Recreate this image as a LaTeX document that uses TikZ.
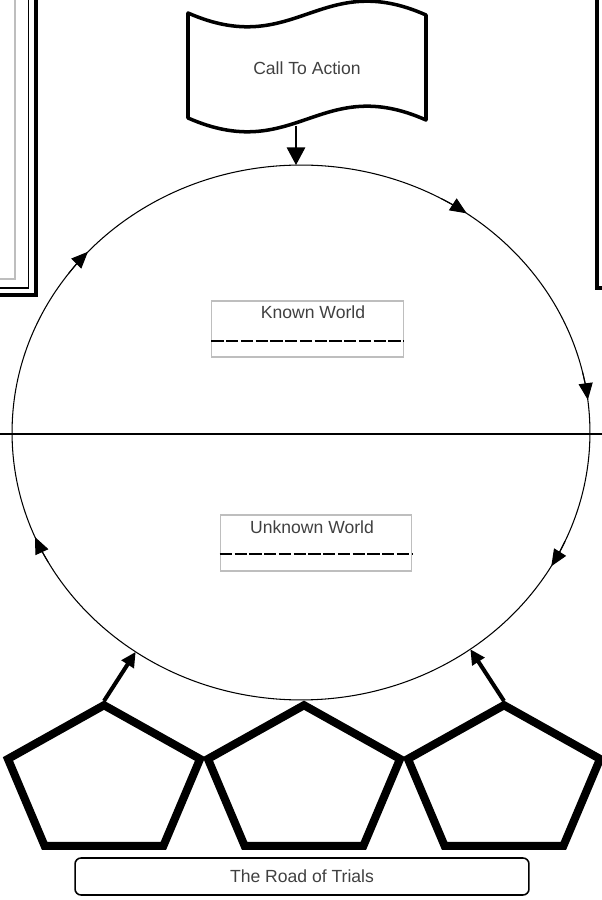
\documentclass[tikz,border=0pt]{standalone}
\usepackage{fontspec}
\setmainfont{Liberation Sans}
\usetikzlibrary{arrows.meta, shapes.geometric}
\definecolor{label}{RGB}{64,64,64}
\definecolor{frame}{RGB}{190,190,190}

\begin{document}
\begin{tikzpicture}[x=0.02cm, y=0.02cm, >=Stealth,
    txt/.style={font=\fontsize{10}{12}\selectfont, text=label, inner sep=0pt},
    flagline/.style={line width=2pt, line join=round},
    ring/.style={draw, ellipse, line width=0.6pt, minimum width=11.56cm,
                 minimum height=10.7cm, inner sep=0pt, outer sep=0pt},
    ringtip/.style={line width=0.6pt, -{Triangle[length=9.5pt,width=8pt]}},
    worldbox/.style={draw=frame, line width=0.6pt, minimum width=3.83cm,
                     minimum height=1.12cm, inner sep=0pt},
    blank/.style={line width=1.1pt, dash pattern=on 7pt off 1.4pt},
    trialpen/.style={line width=4.6pt, line join=miter},
    trialarrow/.style={line width=2.3pt, -{Triangle[length=8.5pt,width=8pt]}},
    roadbox/.style={draw=black, rounded corners=0.12cm, line width=0.9pt,
                    minimum width=9.08cm, minimum height=0.74cm}]

  \useasboundingbox (0,0) rectangle (602,900);

  % side frames (cut off by the page)
  \draw[line width=2.3pt]       (-20,920) rectangle (36,605);
  \draw[line width=1.1pt]       (-20,920) rectangle (28.5,612);
  \draw[frame, line width=0.6pt] (-20,920) rectangle (15,621);
  \draw[line width=2.3pt]       (597,612) rectangle (620,920);

  % call to action flag
  \draw[flagline] (188,887) .. controls (295,840) and (320,932) .. (426,885)
    -- (426,780) .. controls (320,827) and (295,735) .. (188,782) -- cycle;
  \node[txt] (calltext) at (307,832) {Call To Action};
  \coordinate (flagfoot) at (296,774);

  % journey ring
  \node[ring] (journey) at (301,467.5) {};
  \coordinate (ringc) at (301,467.5);
  \draw[line width=0.8pt] (0,466) -- (602,466);
  \foreach \t in {55,7,-30,203,137.5}
    \draw[ringtip] (ringc) ++(\t+6:289 and 267.5)
      arc[start angle=\t+6, end angle=\t, x radius=289, y radius=267.5];
  \draw[line width=0.7pt, -{Triangle[length=10pt,width=10.5pt]}]
    (flagfoot) -- (flagfoot |- journey.north);

  % known / unknown world
  \node[worldbox] (knownbox) at (307.5,571) {};
  \node[txt] (knowntext) at (313,588) {Known World};
  \draw[blank] ([yshift=-0.24cm]knownbox.west) -- ([yshift=-0.24cm]knownbox.east);
  \node[worldbox] (unknownbox) at (316,357) {};
  \node[txt] (unknowntext) at (312,373) {Unknown World};
  \draw[blank] ([yshift=-0.22cm]unknownbox.west) -- ([yshift=-0.22cm]unknownbox.east);

  % trials
  \foreach \cx [count=\i] in {104,304,504} {
    \draw[trialpen, shift={(\cx,117)}, yscale=0.77]
      (90:101) -- (162:101) -- (234:101) -- (306:101) -- (18:101) -- cycle;
    \coordinate (trial\i) at (\cx,199);
  }
  \draw[trialarrow] (trial1) -- (journey.233);
  \draw[trialarrow] (trial3) -- (journey.308);

  \node[roadbox, txt] (road) at (302,23.5) {The Road of Trials};
\end{tikzpicture}
\end{document}
